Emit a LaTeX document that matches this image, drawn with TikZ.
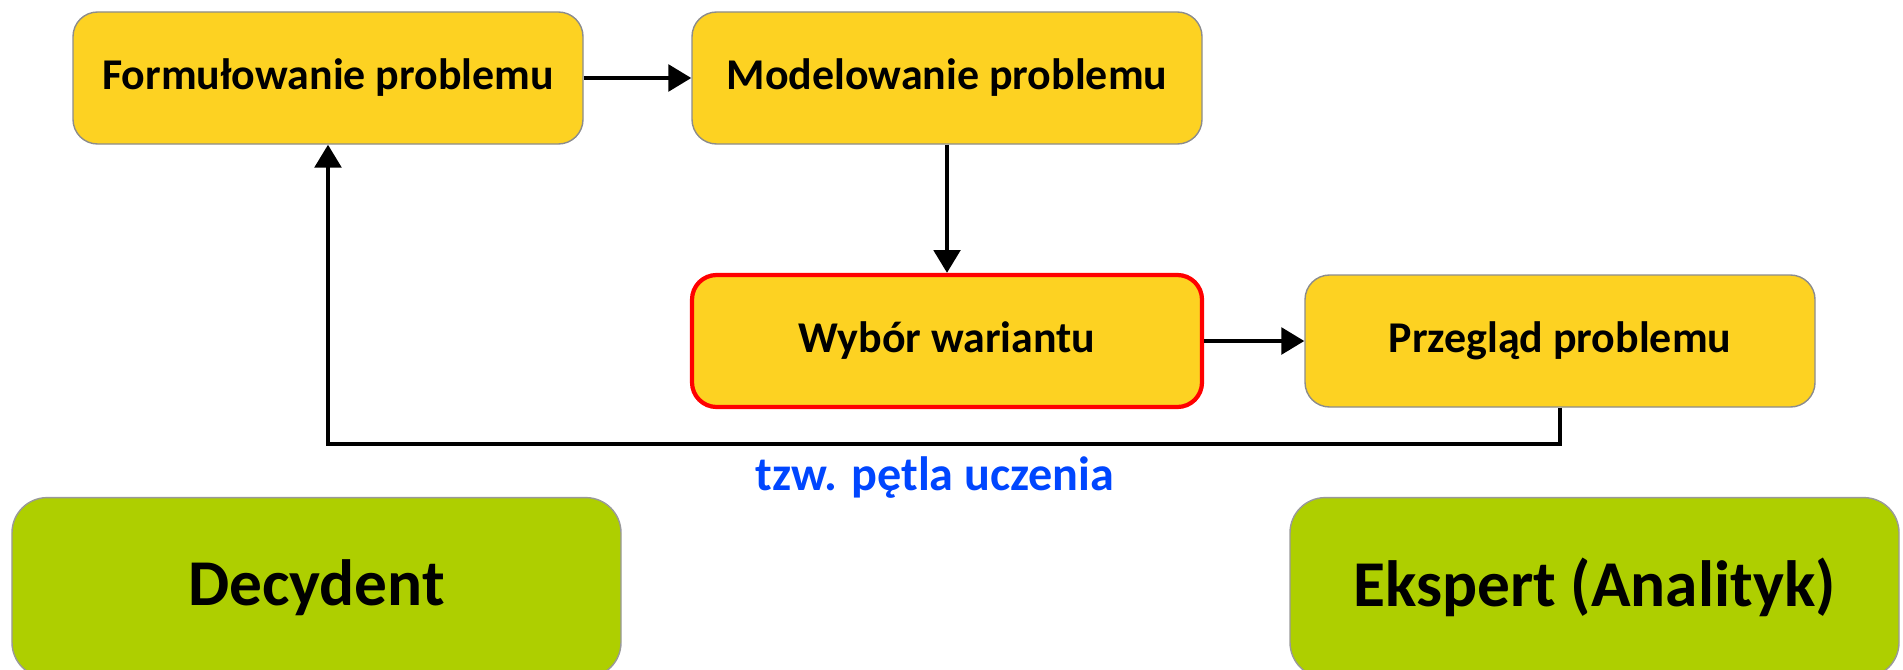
\documentclass[tikz,border=0pt]{standalone}
\usepackage{fontspec}
\setmainfont{Carlito}
\usepackage{tikz}
\usetikzlibrary{arrows.meta}
\definecolor{zolty}{RGB}{253,210,34}
\definecolor{zielony}{RGB}{174,207,0}
\definecolor{niebieski}{RGB}{0,70,255}
\tikzstyle{krok}=[rectangle,rounded corners=7pt,fill=zolty,draw=black!45,line width=0.4pt,minimum width=5.1cm,minimum height=1.32cm,inner sep=0pt,font=\bfseries\fontsize{12.5}{14}\selectfont]
\tikzstyle{wybrany}=[draw=red,line width=1.2pt]
\tikzstyle{rola}=[rectangle,rounded corners=10pt,fill=zielony,draw=black!40,line width=0.4pt,minimum width=6.09cm,minimum height=1.8cm,inner sep=0pt,font=\bfseries\fontsize{18.6}{21}\selectfont]
\tikzstyle{edge} = [draw,line width=1.2pt,-{Triangle[length=6.5pt,width=7.5pt]}]
\tikzstyle{opis} = [text=niebieski,font=\bfseries\fontsize{13.7}{16}\selectfont]

\begin{document}
\begin{tikzpicture}

    \clip (0,0) rectangle (19.03,6.69);

    % etapy procesu
    \foreach \pos/\name/\tekst in {{(3.28,5.91)/formulowanie/Formułowanie problemu},
                                   {(9.47,5.91)/modelowanie/Modelowanie problemu},
                                   {(15.60,3.28)/przeglad/Przegląd problemu}}
        \node[krok] (\name) at \pos {\tekst};
    \node[krok, wybrany] (wybor) at (9.47,3.28) {Wybór wariantu};

    % uczestnicy
    \node[rola] (decydent) at (3.165,0.814) {Decydent};
    \node[rola] (ekspert) at (15.945,0.814) {Ekspert (Analityk)};

    \foreach \source/ \dest in {formulowanie/modelowanie, wybor/przeglad}
        \path[edge] (\source) -- (\dest);
    \path[edge] (modelowanie) -- (wybor);

    % petla zwrotna
    \coordinate (petla) at (9.35,2.25);
    \path[edge] (przeglad.south) |- (petla) -| (formulowanie.south);
    \node[opis] (uczenie) at (9.35,1.91) {tzw. pętla uczenia};

\end{tikzpicture}
\end{document}
